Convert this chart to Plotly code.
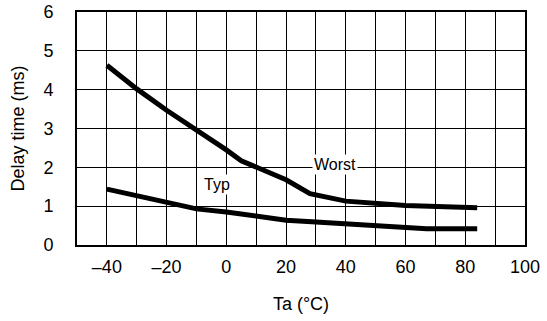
import plotly.graph_objects as go

worst_temp = [-40, -30, -20, -10, 0, 5, 20, 28, 40, 60, 84]
worst_delay = [4.63, 4.02, 3.47, 2.97, 2.45, 2.17, 1.68, 1.32, 1.13, 1.02, 0.96]

typ_temp = [-40, -20, -10, 0, 20, 30, 50, 67, 84]
typ_delay = [1.44, 1.12, 0.93, 0.85, 0.64, 0.59, 0.50, 0.42, 0.42]

x_tickvals = [-40, -20, 0, 20, 40, 60, 80, 100]
x_ticktext = ["\u201340", "\u201320", "0", "20", "40", "60", "80", "100"]
y_tickvals = [0, 1, 2, 3, 4, 5, 6]

FONT = "Liberation Sans, Arial, sans-serif"

fig = go.Figure()
for temp, delay in [(worst_temp, worst_delay), (typ_temp, typ_delay)]:
    fig.add_trace(
        go.Scatter(
            x=temp,
            y=delay,
            mode="lines",
            line={"color": "black", "width": 5},
            showlegend=False,
            hoverinfo="skip",
        )
    )

fig.add_annotation(x=36.4, y=2.08, text="Worst", showarrow=False,
                   bgcolor="white", font={"size": 16, "color": "black", "family": FONT})
fig.add_annotation(x=-3, y=1.57, text="Typ", showarrow=False,
                   bgcolor="white", font={"size": 16, "color": "black", "family": FONT})

# minor grid for x every 10, labels every 20
fig.update_xaxes(
    range=[-50, 100],
    tickvals=x_tickvals,
    ticktext=x_ticktext,
    ticks="outside",
    ticklen=4,
    tickcolor="white",
    showgrid=False,
    minor={"dtick": 10, "showgrid": True, "gridcolor": "black", "gridwidth": 1, "tick0": -50},
    showline=True,
    linecolor="black",
    linewidth=2,
    mirror=True,
    zeroline=False,
    automargin=False,
    ticklabeloverflow="allow",
    title={"text": "Ta (\u00b0C)", "standoff": 22},
    tickfont={"size": 18, "color": "black", "family": FONT},
    title_font={"size": 18, "color": "black", "family": FONT},
)
fig.update_yaxes(
    range=[0, 6],
    tickvals=y_tickvals,
    ticks="outside",
    ticklen=18,
    tickcolor="white",
    showgrid=True,
    gridcolor="black",
    gridwidth=1,
    showline=True,
    linecolor="black",
    linewidth=2,
    mirror=True,
    zeroline=False,
    automargin=False,
    ticklabeloverflow="allow",
    title={"text": "Delay time (ms)", "standoff": 14},
    tickfont={"size": 18, "color": "black", "family": FONT},
    title_font={"size": 18, "color": "black", "family": FONT},
)
fig.update_layout(
    width=547,
    height=321,
    margin={"l": 77, "r": 22, "t": 12, "b": 76},
    plot_bgcolor="white",
    paper_bgcolor="white",
)
fig.write_html(
    "out.html",
    config={"displayModeBar": False},
    post_script="document.body.style.margin='0';document.body.style.overflow='hidden';",
)
